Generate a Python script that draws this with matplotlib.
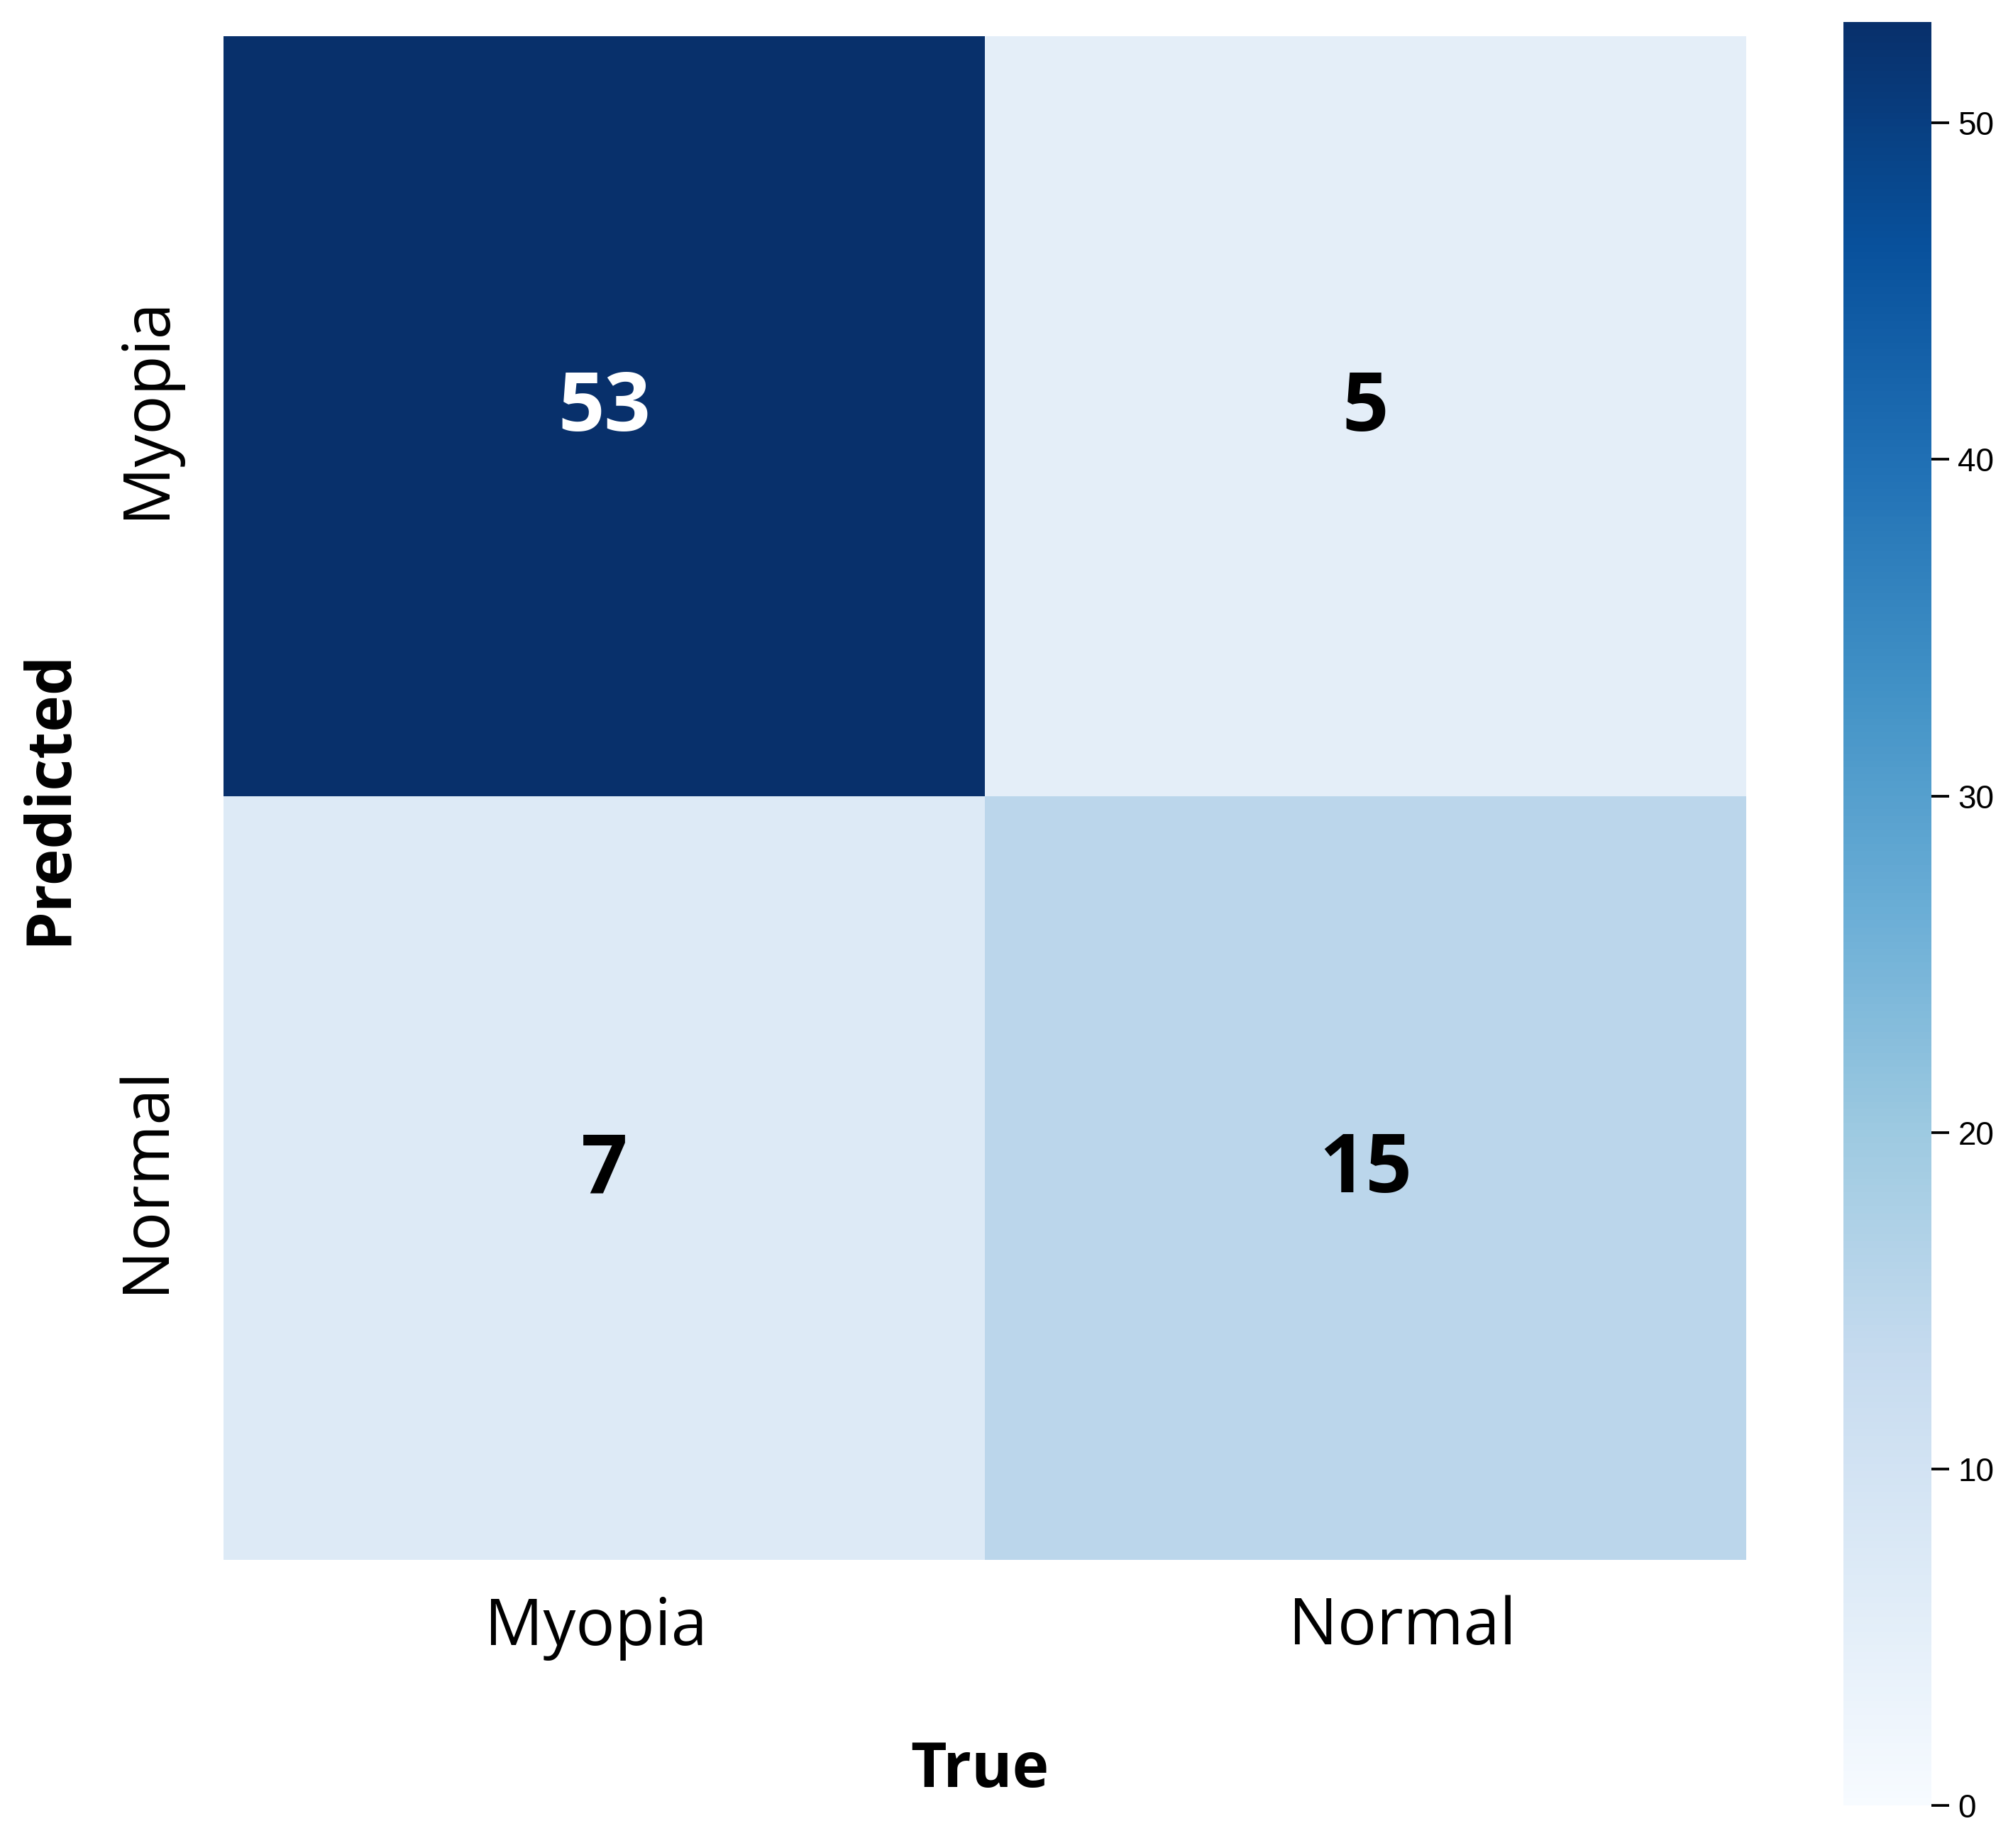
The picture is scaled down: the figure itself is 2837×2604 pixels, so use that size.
"""Confusion matrix for the myopia classifier (Blues heatmap with colorbar)."""
import matplotlib
matplotlib.use("Agg")
import matplotlib.pyplot as plt
import matplotlib.transforms as mtransforms
import numpy as np

W, H, DPI = 2837, 2604, 300

classes = ["Myopia", "Normal"]
# rows = predicted, columns = true
row_myopia = [53, 5]
row_normal = [7, 15]
cbar_ticks = [0, 10, 20, 30, 40, 50]

cm = np.array([row_myopia, row_normal])
VMIN, VMAX = 0, 53

plt.rcParams["font.family"] = ["Open Sans", "DejaVu Sans"]

fig = plt.figure(figsize=(W / DPI, H / DPI), dpi=DPI, facecolor="white")

def px_axes(l, t, r, b):
    return fig.add_axes([l / W, 1 - b / H, (r - l) / W, (b - t) / H])

ax = px_axes(315, 51, 2461, 2198)
cax = px_axes(2598, 31, 2722, 2544)

im = ax.imshow(cm, cmap="Blues", vmin=VMIN, vmax=VMAX, aspect="auto",
               interpolation="nearest")

for i in range(cm.shape[0]):
    for j in range(cm.shape[1]):
        v = cm[i, j]
        ax.text(j, i - 0.01, str(v), ha="center", va="center",
                fontsize=27.5, weight="bold",
                color="white" if v > VMAX / 2 else "black")

ax.set_xticks(range(len(classes)))
ax.set_yticks(range(len(classes)))
ax.set_xticklabels(classes, fontsize=22)
ax.set_yticklabels(classes, fontsize=22, rotation=90, va="center")
ax.tick_params(axis="both", length=0)
ax.tick_params(axis="x", pad=12)
ax.tick_params(axis="y", pad=15)
for s in ax.spines.values():
    s.set_visible(False)

# the reference labels sit a little off the cell centres
def nudge(lbl, dx_px, dy_px):
    off = mtransforms.Affine2D().translate(dx_px, dy_px)
    lbl.set_transform(lbl.get_transform() + off)

xl = ax.get_xticklabels()
nudge(xl[0], -12, 0)
nudge(xl[1], 52, 0)
yl = ax.get_yticklabels()
nudge(yl[0], 0, 14)

# axis titles placed where the reference has them
fig.text(1381 / W, 1 - 2495 / H, "True", fontsize=21, weight="bold",
         ha="center", va="center")
fig.text(70 / W, 1 - 1124 / H, "Predicted", fontsize=21, weight="bold",
         ha="center", va="center", rotation=90)

cb = fig.colorbar(im, cax=cax, ticks=cbar_ticks)
cb.outline.set_visible(False)
cb.ax.tick_params(labelsize=11, length=6, width=0.9, pad=3)
for t in cb.ax.get_yticklabels():
    t.set_fontfamily(["Liberation Sans", "DejaVu Sans"])

fig.savefig("out.png", dpi=DPI, facecolor="white")
